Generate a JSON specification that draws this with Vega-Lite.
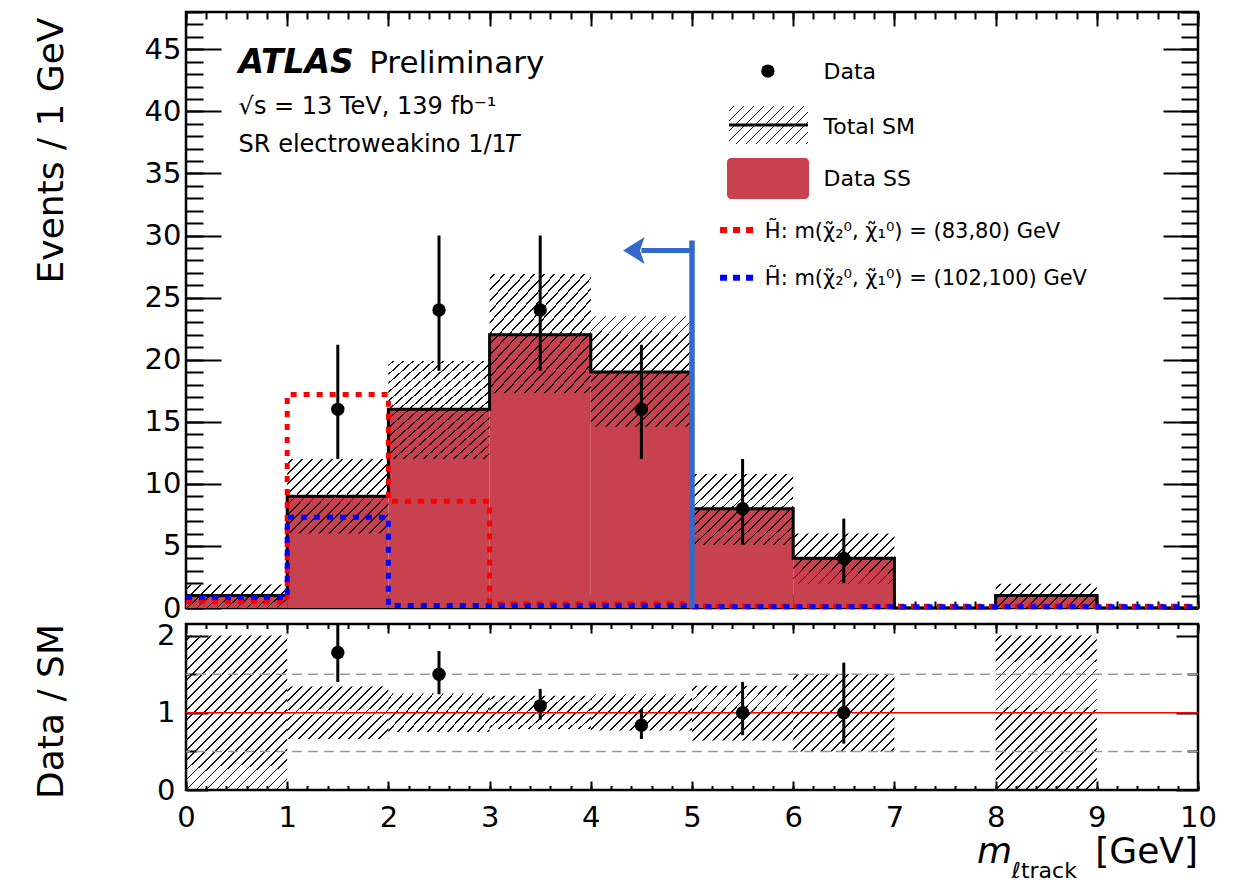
{
  "$schema": "https://vega.github.io/schema/vega-lite/v6.json",
  "background": "white",
  "padding": {"left": 31, "top": 9, "right": 5, "bottom": 5},
  "bounds": "flush",
  "spacing": 16,
  "resolve": {"scale": {"x": "independent", "y": "independent"}},
  "datasets": {
    "bins": [
      {"x0": 0, "x1": 1, "sm": 1, "dn": 0, "up": 1.9, "rdn": 0, "rup": 2.0},
      {"x0": 1, "x1": 2, "sm": 9, "dn": 6.0, "up": 12.0, "rdn": 0.66, "rup": 1.34},
      {"x0": 2, "x1": 3, "sm": 16, "dn": 12.0, "up": 19.9, "rdn": 0.75, "rup": 1.25},
      {"x0": 3, "x1": 4, "sm": 22, "dn": 17.3, "up": 26.9, "rdn": 0.79, "rup": 1.22},
      {"x0": 4, "x1": 5, "sm": 19, "dn": 14.6, "up": 23.5, "rdn": 0.77, "rup": 1.24},
      {"x0": 5, "x1": 6, "sm": 8, "dn": 5.1, "up": 10.8, "rdn": 0.64, "rup": 1.35},
      {"x0": 6, "x1": 7, "sm": 4, "dn": 1.95, "up": 6.0, "rdn": 0.5, "rup": 1.5},
      {"x0": 7, "x1": 8, "sm": 0, "dn": 0, "up": 0, "rdn": null, "rup": null},
      {"x0": 8, "x1": 9, "sm": 1, "dn": 0, "up": 1.95, "rdn": 0, "rup": 2.0},
      {"x0": 9, "x1": 10, "sm": 0, "dn": 0, "up": 0, "rdn": null, "rup": null}
    ],
    "edges": [
      {"x": 0, "sm": 1, "s1": 0.5, "s2": 0.85},
      {"x": 1, "sm": 9, "s1": 17.2, "s2": 7.3},
      {"x": 2, "sm": 16, "s1": 8.6, "s2": 0.2},
      {"x": 3, "sm": 22, "s1": 0.35, "s2": 0.2},
      {"x": 4, "sm": 19, "s1": 0.35, "s2": 0.2},
      {"x": 5, "sm": 8, "s1": 0.15, "s2": 0.1},
      {"x": 6, "sm": 4, "s1": 0.15, "s2": 0.1},
      {"x": 7, "sm": 0, "s1": 0.15, "s2": 0.1},
      {"x": 8, "sm": 1, "s1": 0.15, "s2": 0.1},
      {"x": 9, "sm": 0, "s1": 0.15, "s2": 0.1},
      {"x": 10, "sm": 0, "s1": 0.15, "s2": 0.1}
    ],
    "pts": [
      {"x": 1.5, "n": 16, "lo": 12.0, "hi": 21.2, "r": 1.78, "rlo": 1.40, "rhi": 2.35},
      {"x": 2.5, "n": 24, "lo": 19.1, "hi": 30.0, "r": 1.50, "rlo": 1.24, "rhi": 1.80},
      {"x": 3.5, "n": 24, "lo": 19.1, "hi": 30.0, "r": 1.09, "rlo": 0.91, "rhi": 1.31},
      {"x": 4.5, "n": 16, "lo": 12.0, "hi": 21.2, "r": 0.84, "rlo": 0.66, "rhi": 1.05},
      {"x": 5.5, "n": 8, "lo": 5.1, "hi": 12.0, "r": 1.00, "rlo": 0.71, "rhi": 1.40},
      {"x": 6.5, "n": 4, "lo": 2.0, "hi": 7.2, "r": 1.00, "rlo": 0.60, "rhi": 1.65}
    ]
  },
  "vconcat": [
    {
      "width": 1012,
      "height": 596,
      "resolve": {"axis": {"x": "independent", "y": "independent"}},
      "layer": [
        {
          "data": {"name": "bins"},
          "mark": {"type": "rect", "color": "#C8414F"},
          "encoding": {
            "x": {"field": "x0", "type": "quantitative", "scale": {"domain": [0, 10], "nice": false, "zero": false},
                  "axis": {"orient": "bottom", "values": [0,1,2,3,4,5,6,7,8,9,10], "labels": false, "tickSize": 14, "offset": -14, "title": null}},
            "x2": {"field": "x1"},
            "y": {"field": "sm", "type": "quantitative", "scale": {"domain": [0, 48], "nice": false, "zero": false},
                  "axis": {"orient": "left", "values": [0,5,10,15,20,25,30,35,40,45], "ticks": false, "labelPadding": 5,
                           "title": "Events / 1 GeV", "titleAnchor": "end", "titleX": -124, "titleY": 5, "titleAngle": -90, "titleBaseline": "alphabetic"}},
            "y2": {"datum": 0}
          }
        },
        {
          "data": {"name": "bins"},
          "transform": [{"filter": "datum.x0 == 0 || datum.x0 == 8"}],
          "mark": {"type": "rect", "fill": {"gradient": "linear", "x1": 0, "y1": 0, "x2": 2.4325, "y2": 0.5769, "stops": [
            {"offset":0,"color":"transparent"},
            {"offset":0.0157,"color":"transparent"},{"offset":0.0157,"color":"#111"},{"offset":0.0227,"color":"#111"},{"offset":0.0227,"color":"transparent"},
            {"offset":0.0542,"color":"transparent"},{"offset":0.0542,"color":"#111"},{"offset":0.0612,"color":"#111"},{"offset":0.0612,"color":"transparent"},
            {"offset":0.0927,"color":"transparent"},{"offset":0.0927,"color":"#111"},{"offset":0.0997,"color":"#111"},{"offset":0.0997,"color":"transparent"},
            {"offset":0.1311,"color":"transparent"},{"offset":0.1311,"color":"#111"},{"offset":0.1381,"color":"#111"},{"offset":0.1381,"color":"transparent"},
            {"offset":0.1696,"color":"transparent"},{"offset":0.1696,"color":"#111"},{"offset":0.1766,"color":"#111"},{"offset":0.1766,"color":"transparent"},
            {"offset":0.2080,"color":"transparent"},{"offset":0.2080,"color":"#111"},{"offset":0.2150,"color":"#111"},{"offset":0.2150,"color":"transparent"},
            {"offset":0.2465,"color":"transparent"},{"offset":0.2465,"color":"#111"},{"offset":0.2535,"color":"#111"},{"offset":0.2535,"color":"transparent"},
            {"offset":0.2850,"color":"transparent"},{"offset":0.2850,"color":"#111"},{"offset":0.2920,"color":"#111"},{"offset":0.2920,"color":"transparent"},
            {"offset":0.3234,"color":"transparent"},{"offset":0.3234,"color":"#111"},{"offset":0.3304,"color":"#111"},{"offset":0.3304,"color":"transparent"},
            {"offset":0.3619,"color":"transparent"},{"offset":0.3619,"color":"#111"},{"offset":0.3689,"color":"#111"},{"offset":0.3689,"color":"transparent"},
            {"offset":0.4003,"color":"transparent"},{"offset":0.4003,"color":"#111"},{"offset":0.4073,"color":"#111"},{"offset":0.4073,"color":"transparent"},
            {"offset":0.4388,"color":"transparent"},{"offset":0.4388,"color":"#111"},{"offset":0.4458,"color":"#111"},{"offset":0.4458,"color":"transparent"},
            {"offset":0.4773,"color":"transparent"},{"offset":0.4773,"color":"#111"},{"offset":0.4843,"color":"#111"},{"offset":0.4843,"color":"transparent"},
            {"offset":0.5157,"color":"transparent"},{"offset":0.5157,"color":"#111"},{"offset":0.5227,"color":"#111"},{"offset":0.5227,"color":"transparent"},
            {"offset":0.5542,"color":"transparent"},{"offset":0.5542,"color":"#111"},{"offset":0.5612,"color":"#111"},{"offset":0.5612,"color":"transparent"},
            {"offset":0.5927,"color":"transparent"},{"offset":0.5927,"color":"#111"},{"offset":0.5997,"color":"#111"},{"offset":0.5997,"color":"transparent"},
            {"offset":0.6311,"color":"transparent"},{"offset":0.6311,"color":"#111"},{"offset":0.6381,"color":"#111"},{"offset":0.6381,"color":"transparent"},
            {"offset":0.6696,"color":"transparent"},{"offset":0.6696,"color":"#111"},{"offset":0.6766,"color":"#111"},{"offset":0.6766,"color":"transparent"},
            {"offset":0.7080,"color":"transparent"},{"offset":0.7080,"color":"#111"},{"offset":0.7150,"color":"#111"},{"offset":0.7150,"color":"transparent"},
            {"offset":0.7465,"color":"transparent"},{"offset":0.7465,"color":"#111"},{"offset":0.7535,"color":"#111"},{"offset":0.7535,"color":"transparent"},
            {"offset":0.7850,"color":"transparent"},{"offset":0.7850,"color":"#111"},{"offset":0.7920,"color":"#111"},{"offset":0.7920,"color":"transparent"},
            {"offset":0.8234,"color":"transparent"},{"offset":0.8234,"color":"#111"},{"offset":0.8304,"color":"#111"},{"offset":0.8304,"color":"transparent"},
            {"offset":0.8619,"color":"transparent"},{"offset":0.8619,"color":"#111"},{"offset":0.8689,"color":"#111"},{"offset":0.8689,"color":"transparent"},
            {"offset":0.9003,"color":"transparent"},{"offset":0.9003,"color":"#111"},{"offset":0.9073,"color":"#111"},{"offset":0.9073,"color":"transparent"},
            {"offset":0.9388,"color":"transparent"},{"offset":0.9388,"color":"#111"},{"offset":0.9458,"color":"#111"},{"offset":0.9458,"color":"transparent"},
            {"offset":0.9773,"color":"transparent"},{"offset":0.9773,"color":"#111"},{"offset":0.9843,"color":"#111"},{"offset":0.9843,"color":"transparent"},
            {"offset":1,"color":"transparent"}]}},
          "encoding": {
            "x": {"field": "x0", "type": "quantitative",
                  "axis": {"orient": "bottom", "values": [0,0.2,0.4,0.6,0.8,1,1.2,1.4,1.6,1.8,2,2.2,2.4,2.6,2.8,3,3.2,3.4,3.6,3.8,4,4.2,4.4,4.6,4.8,5,5.2,5.4,5.6,5.8,6,6.2,6.4,6.6,6.8,7,7.2,7.4,7.6,7.8,8,8.2,8.4,8.6,8.8,9,9.2,9.4,9.6,9.8,10], "labels": false, "tickSize": 7, "offset": -7, "title": null}},
            "x2": {"field": "x1"},
            "y": {"field": "up", "type": "quantitative",
                  "axis": {"orient": "left", "values": [0,5,10,15,20,25,30,35,40,45], "labels": false, "tickSize": 35, "offset": -35, "title": null}},
            "y2": {"field": "dn"}
          }
        },
        {
          "data": {"name": "bins"},
          "transform": [{"filter": "datum.x0 == 1 || datum.x0 == 5"}],
          "mark": {"type": "rect", "fill": {"gradient": "linear", "x1": 0, "y1": 0, "x2": 1.690, "y2": 1.219, "stops": [
            {"offset":0,"color":"transparent"},
            {"offset":0.0157,"color":"transparent"},{"offset":0.0157,"color":"#111"},{"offset":0.0227,"color":"#111"},{"offset":0.0227,"color":"transparent"},
            {"offset":0.0542,"color":"transparent"},{"offset":0.0542,"color":"#111"},{"offset":0.0612,"color":"#111"},{"offset":0.0612,"color":"transparent"},
            {"offset":0.0927,"color":"transparent"},{"offset":0.0927,"color":"#111"},{"offset":0.0997,"color":"#111"},{"offset":0.0997,"color":"transparent"},
            {"offset":0.1311,"color":"transparent"},{"offset":0.1311,"color":"#111"},{"offset":0.1381,"color":"#111"},{"offset":0.1381,"color":"transparent"},
            {"offset":0.1696,"color":"transparent"},{"offset":0.1696,"color":"#111"},{"offset":0.1766,"color":"#111"},{"offset":0.1766,"color":"transparent"},
            {"offset":0.2080,"color":"transparent"},{"offset":0.2080,"color":"#111"},{"offset":0.2150,"color":"#111"},{"offset":0.2150,"color":"transparent"},
            {"offset":0.2465,"color":"transparent"},{"offset":0.2465,"color":"#111"},{"offset":0.2535,"color":"#111"},{"offset":0.2535,"color":"transparent"},
            {"offset":0.2850,"color":"transparent"},{"offset":0.2850,"color":"#111"},{"offset":0.2920,"color":"#111"},{"offset":0.2920,"color":"transparent"},
            {"offset":0.3234,"color":"transparent"},{"offset":0.3234,"color":"#111"},{"offset":0.3304,"color":"#111"},{"offset":0.3304,"color":"transparent"},
            {"offset":0.3619,"color":"transparent"},{"offset":0.3619,"color":"#111"},{"offset":0.3689,"color":"#111"},{"offset":0.3689,"color":"transparent"},
            {"offset":0.4003,"color":"transparent"},{"offset":0.4003,"color":"#111"},{"offset":0.4073,"color":"#111"},{"offset":0.4073,"color":"transparent"},
            {"offset":0.4388,"color":"transparent"},{"offset":0.4388,"color":"#111"},{"offset":0.4458,"color":"#111"},{"offset":0.4458,"color":"transparent"},
            {"offset":0.4773,"color":"transparent"},{"offset":0.4773,"color":"#111"},{"offset":0.4843,"color":"#111"},{"offset":0.4843,"color":"transparent"},
            {"offset":0.5157,"color":"transparent"},{"offset":0.5157,"color":"#111"},{"offset":0.5227,"color":"#111"},{"offset":0.5227,"color":"transparent"},
            {"offset":0.5542,"color":"transparent"},{"offset":0.5542,"color":"#111"},{"offset":0.5612,"color":"#111"},{"offset":0.5612,"color":"transparent"},
            {"offset":0.5927,"color":"transparent"},{"offset":0.5927,"color":"#111"},{"offset":0.5997,"color":"#111"},{"offset":0.5997,"color":"transparent"},
            {"offset":0.6311,"color":"transparent"},{"offset":0.6311,"color":"#111"},{"offset":0.6381,"color":"#111"},{"offset":0.6381,"color":"transparent"},
            {"offset":0.6696,"color":"transparent"},{"offset":0.6696,"color":"#111"},{"offset":0.6766,"color":"#111"},{"offset":0.6766,"color":"transparent"},
            {"offset":0.7080,"color":"transparent"},{"offset":0.7080,"color":"#111"},{"offset":0.7150,"color":"#111"},{"offset":0.7150,"color":"transparent"},
            {"offset":0.7465,"color":"transparent"},{"offset":0.7465,"color":"#111"},{"offset":0.7535,"color":"#111"},{"offset":0.7535,"color":"transparent"},
            {"offset":0.7850,"color":"transparent"},{"offset":0.7850,"color":"#111"},{"offset":0.7920,"color":"#111"},{"offset":0.7920,"color":"transparent"},
            {"offset":0.8234,"color":"transparent"},{"offset":0.8234,"color":"#111"},{"offset":0.8304,"color":"#111"},{"offset":0.8304,"color":"transparent"},
            {"offset":0.8619,"color":"transparent"},{"offset":0.8619,"color":"#111"},{"offset":0.8689,"color":"#111"},{"offset":0.8689,"color":"transparent"},
            {"offset":0.9003,"color":"transparent"},{"offset":0.9003,"color":"#111"},{"offset":0.9073,"color":"#111"},{"offset":0.9073,"color":"transparent"},
            {"offset":0.9388,"color":"transparent"},{"offset":0.9388,"color":"#111"},{"offset":0.9458,"color":"#111"},{"offset":0.9458,"color":"transparent"},
            {"offset":0.9773,"color":"transparent"},{"offset":0.9773,"color":"#111"},{"offset":0.9843,"color":"#111"},{"offset":0.9843,"color":"transparent"},
            {"offset":1,"color":"transparent"}]}},
          "encoding": {
            "x": {"field": "x0", "type": "quantitative", "axis": null},
            "x2": {"field": "x1"},
            "y": {"field": "up", "type": "quantitative", "axis": null},
            "y2": {"field": "dn"}
          }
        },
        {
          "data": {"name": "bins"},
          "transform": [{"filter": "datum.x0 == 6"}],
          "mark": {"type": "rect", "fill": {"gradient": "linear", "x1": 0, "y1": 0, "x2": 2.065, "y2": 1.020, "stops": [
            {"offset":0,"color":"transparent"},
            {"offset":0.0157,"color":"transparent"},{"offset":0.0157,"color":"#111"},{"offset":0.0227,"color":"#111"},{"offset":0.0227,"color":"transparent"},
            {"offset":0.0542,"color":"transparent"},{"offset":0.0542,"color":"#111"},{"offset":0.0612,"color":"#111"},{"offset":0.0612,"color":"transparent"},
            {"offset":0.0927,"color":"transparent"},{"offset":0.0927,"color":"#111"},{"offset":0.0997,"color":"#111"},{"offset":0.0997,"color":"transparent"},
            {"offset":0.1311,"color":"transparent"},{"offset":0.1311,"color":"#111"},{"offset":0.1381,"color":"#111"},{"offset":0.1381,"color":"transparent"},
            {"offset":0.1696,"color":"transparent"},{"offset":0.1696,"color":"#111"},{"offset":0.1766,"color":"#111"},{"offset":0.1766,"color":"transparent"},
            {"offset":0.2080,"color":"transparent"},{"offset":0.2080,"color":"#111"},{"offset":0.2150,"color":"#111"},{"offset":0.2150,"color":"transparent"},
            {"offset":0.2465,"color":"transparent"},{"offset":0.2465,"color":"#111"},{"offset":0.2535,"color":"#111"},{"offset":0.2535,"color":"transparent"},
            {"offset":0.2850,"color":"transparent"},{"offset":0.2850,"color":"#111"},{"offset":0.2920,"color":"#111"},{"offset":0.2920,"color":"transparent"},
            {"offset":0.3234,"color":"transparent"},{"offset":0.3234,"color":"#111"},{"offset":0.3304,"color":"#111"},{"offset":0.3304,"color":"transparent"},
            {"offset":0.3619,"color":"transparent"},{"offset":0.3619,"color":"#111"},{"offset":0.3689,"color":"#111"},{"offset":0.3689,"color":"transparent"},
            {"offset":0.4003,"color":"transparent"},{"offset":0.4003,"color":"#111"},{"offset":0.4073,"color":"#111"},{"offset":0.4073,"color":"transparent"},
            {"offset":0.4388,"color":"transparent"},{"offset":0.4388,"color":"#111"},{"offset":0.4458,"color":"#111"},{"offset":0.4458,"color":"transparent"},
            {"offset":0.4773,"color":"transparent"},{"offset":0.4773,"color":"#111"},{"offset":0.4843,"color":"#111"},{"offset":0.4843,"color":"transparent"},
            {"offset":0.5157,"color":"transparent"},{"offset":0.5157,"color":"#111"},{"offset":0.5227,"color":"#111"},{"offset":0.5227,"color":"transparent"},
            {"offset":0.5542,"color":"transparent"},{"offset":0.5542,"color":"#111"},{"offset":0.5612,"color":"#111"},{"offset":0.5612,"color":"transparent"},
            {"offset":0.5927,"color":"transparent"},{"offset":0.5927,"color":"#111"},{"offset":0.5997,"color":"#111"},{"offset":0.5997,"color":"transparent"},
            {"offset":0.6311,"color":"transparent"},{"offset":0.6311,"color":"#111"},{"offset":0.6381,"color":"#111"},{"offset":0.6381,"color":"transparent"},
            {"offset":0.6696,"color":"transparent"},{"offset":0.6696,"color":"#111"},{"offset":0.6766,"color":"#111"},{"offset":0.6766,"color":"transparent"},
            {"offset":0.7080,"color":"transparent"},{"offset":0.7080,"color":"#111"},{"offset":0.7150,"color":"#111"},{"offset":0.7150,"color":"transparent"},
            {"offset":0.7465,"color":"transparent"},{"offset":0.7465,"color":"#111"},{"offset":0.7535,"color":"#111"},{"offset":0.7535,"color":"transparent"},
            {"offset":0.7850,"color":"transparent"},{"offset":0.7850,"color":"#111"},{"offset":0.7920,"color":"#111"},{"offset":0.7920,"color":"transparent"},
            {"offset":0.8234,"color":"transparent"},{"offset":0.8234,"color":"#111"},{"offset":0.8304,"color":"#111"},{"offset":0.8304,"color":"transparent"},
            {"offset":0.8619,"color":"transparent"},{"offset":0.8619,"color":"#111"},{"offset":0.8689,"color":"#111"},{"offset":0.8689,"color":"transparent"},
            {"offset":0.9003,"color":"transparent"},{"offset":0.9003,"color":"#111"},{"offset":0.9073,"color":"#111"},{"offset":0.9073,"color":"transparent"},
            {"offset":0.9388,"color":"transparent"},{"offset":0.9388,"color":"#111"},{"offset":0.9458,"color":"#111"},{"offset":0.9458,"color":"transparent"},
            {"offset":0.9773,"color":"transparent"},{"offset":0.9773,"color":"#111"},{"offset":0.9843,"color":"#111"},{"offset":0.9843,"color":"transparent"},
            {"offset":1,"color":"transparent"}]}},
          "encoding": {
            "x": {"field": "x0", "type": "quantitative", "axis": null},
            "x2": {"field": "x1"},
            "y": {"field": "up", "type": "quantitative", "axis": null},
            "y2": {"field": "dn"}
          }
        },
        {
          "data": {"name": "bins"},
          "transform": [{"filter": "datum.x0 >= 2 && datum.x0 <= 4"}],
          "mark": {"type": "rect", "fill": {"gradient": "linear", "x1": 0, "y1": 0, "x2": 1.1778, "y2": 1.2802, "stops": [
            {"offset":0,"color":"transparent"},
            {"offset":0.0157,"color":"transparent"},{"offset":0.0157,"color":"#111"},{"offset":0.0227,"color":"#111"},{"offset":0.0227,"color":"transparent"},
            {"offset":0.0542,"color":"transparent"},{"offset":0.0542,"color":"#111"},{"offset":0.0612,"color":"#111"},{"offset":0.0612,"color":"transparent"},
            {"offset":0.0927,"color":"transparent"},{"offset":0.0927,"color":"#111"},{"offset":0.0997,"color":"#111"},{"offset":0.0997,"color":"transparent"},
            {"offset":0.1311,"color":"transparent"},{"offset":0.1311,"color":"#111"},{"offset":0.1381,"color":"#111"},{"offset":0.1381,"color":"transparent"},
            {"offset":0.1696,"color":"transparent"},{"offset":0.1696,"color":"#111"},{"offset":0.1766,"color":"#111"},{"offset":0.1766,"color":"transparent"},
            {"offset":0.2080,"color":"transparent"},{"offset":0.2080,"color":"#111"},{"offset":0.2150,"color":"#111"},{"offset":0.2150,"color":"transparent"},
            {"offset":0.2465,"color":"transparent"},{"offset":0.2465,"color":"#111"},{"offset":0.2535,"color":"#111"},{"offset":0.2535,"color":"transparent"},
            {"offset":0.2850,"color":"transparent"},{"offset":0.2850,"color":"#111"},{"offset":0.2920,"color":"#111"},{"offset":0.2920,"color":"transparent"},
            {"offset":0.3234,"color":"transparent"},{"offset":0.3234,"color":"#111"},{"offset":0.3304,"color":"#111"},{"offset":0.3304,"color":"transparent"},
            {"offset":0.3619,"color":"transparent"},{"offset":0.3619,"color":"#111"},{"offset":0.3689,"color":"#111"},{"offset":0.3689,"color":"transparent"},
            {"offset":0.4003,"color":"transparent"},{"offset":0.4003,"color":"#111"},{"offset":0.4073,"color":"#111"},{"offset":0.4073,"color":"transparent"},
            {"offset":0.4388,"color":"transparent"},{"offset":0.4388,"color":"#111"},{"offset":0.4458,"color":"#111"},{"offset":0.4458,"color":"transparent"},
            {"offset":0.4773,"color":"transparent"},{"offset":0.4773,"color":"#111"},{"offset":0.4843,"color":"#111"},{"offset":0.4843,"color":"transparent"},
            {"offset":0.5157,"color":"transparent"},{"offset":0.5157,"color":"#111"},{"offset":0.5227,"color":"#111"},{"offset":0.5227,"color":"transparent"},
            {"offset":0.5542,"color":"transparent"},{"offset":0.5542,"color":"#111"},{"offset":0.5612,"color":"#111"},{"offset":0.5612,"color":"transparent"},
            {"offset":0.5927,"color":"transparent"},{"offset":0.5927,"color":"#111"},{"offset":0.5997,"color":"#111"},{"offset":0.5997,"color":"transparent"},
            {"offset":0.6311,"color":"transparent"},{"offset":0.6311,"color":"#111"},{"offset":0.6381,"color":"#111"},{"offset":0.6381,"color":"transparent"},
            {"offset":0.6696,"color":"transparent"},{"offset":0.6696,"color":"#111"},{"offset":0.6766,"color":"#111"},{"offset":0.6766,"color":"transparent"},
            {"offset":0.7080,"color":"transparent"},{"offset":0.7080,"color":"#111"},{"offset":0.7150,"color":"#111"},{"offset":0.7150,"color":"transparent"},
            {"offset":0.7465,"color":"transparent"},{"offset":0.7465,"color":"#111"},{"offset":0.7535,"color":"#111"},{"offset":0.7535,"color":"transparent"},
            {"offset":0.7850,"color":"transparent"},{"offset":0.7850,"color":"#111"},{"offset":0.7920,"color":"#111"},{"offset":0.7920,"color":"transparent"},
            {"offset":0.8234,"color":"transparent"},{"offset":0.8234,"color":"#111"},{"offset":0.8304,"color":"#111"},{"offset":0.8304,"color":"transparent"},
            {"offset":0.8619,"color":"transparent"},{"offset":0.8619,"color":"#111"},{"offset":0.8689,"color":"#111"},{"offset":0.8689,"color":"transparent"},
            {"offset":0.9003,"color":"transparent"},{"offset":0.9003,"color":"#111"},{"offset":0.9073,"color":"#111"},{"offset":0.9073,"color":"transparent"},
            {"offset":0.9388,"color":"transparent"},{"offset":0.9388,"color":"#111"},{"offset":0.9458,"color":"#111"},{"offset":0.9458,"color":"transparent"},
            {"offset":0.9773,"color":"transparent"},{"offset":0.9773,"color":"#111"},{"offset":0.9843,"color":"#111"},{"offset":0.9843,"color":"transparent"},
            {"offset":1,"color":"transparent"}]}},
          "encoding": {
            "x": {"field": "x0", "type": "quantitative", "axis": null},
            "x2": {"field": "x1"},
            "y": {"field": "up", "type": "quantitative", "axis": null},
            "y2": {"field": "dn"}
          }
        },
        {
          "data": {"name": "edges"},
          "mark": {"type": "line", "interpolate": "step-after", "color": "black", "strokeWidth": 3},
          "encoding": {
            "x": {"field": "x", "type": "quantitative",
                  "axis": {"orient": "top", "values": [0,1,2,3,4,5,6,7,8,9,10], "labels": false, "tickSize": 14, "offset": -14, "title": null}},
            "y": {"field": "sm", "type": "quantitative",
                  "axis": {"orient": "left", "values": [0,1,2,3,4,5,6,7,8,9,10,11,12,13,14,15,16,17,18,19,20,21,22,23,24,25,26,27,28,29,30,31,32,33,34,35,36,37,38,39,40,41,42,43,44,45,46,47,48], "labels": false, "tickSize": 17, "offset": -17, "title": null}}
          }
        },
        {
          "data": {"name": "edges"},
          "mark": {"type": "line", "interpolate": "step-after", "color": "#FF0000", "strokeWidth": 5, "strokeDash": [6, 7]},
          "encoding": {
            "x": {"field": "x", "type": "quantitative",
                  "axis": {"orient": "top", "values": [0,0.2,0.4,0.6,0.8,1,1.2,1.4,1.6,1.8,2,2.2,2.4,2.6,2.8,3,3.2,3.4,3.6,3.8,4,4.2,4.4,4.6,4.8,5,5.2,5.4,5.6,5.8,6,6.2,6.4,6.6,6.8,7,7.2,7.4,7.6,7.8,8,8.2,8.4,8.6,8.8,9,9.2,9.4,9.6,9.8,10], "labels": false, "tickSize": 7, "offset": -7, "title": null}},
            "y": {"field": "s1", "type": "quantitative",
                  "axis": {"orient": "right", "values": [0,5,10,15,20,25,30,35,40,45], "labels": false, "tickSize": 35, "offset": -35, "title": null}}
          }
        },
        {
          "data": {"name": "edges"},
          "mark": {"type": "line", "interpolate": "step-after", "color": "#0000FF", "strokeWidth": 5, "strokeDash": [6, 7]},
          "encoding": {
            "x": {"field": "x", "type": "quantitative", "axis": null},
            "y": {"field": "s2", "type": "quantitative",
                  "axis": {"orient": "right", "values": [0,1,2,3,4,5,6,7,8,9,10,11,12,13,14,15,16,17,18,19,20,21,22,23,24,25,26,27,28,29,30,31,32,33,34,35,36,37,38,39,40,41,42,43,44,45,46,47,48], "labels": false, "tickSize": 17, "offset": -17, "title": null}}
          }
        },
        {
          "data": {"values": [{"x": 5, "y": 0, "y2": 29.6}]},
          "mark": {"type": "rule", "color": "#3468CB", "strokeWidth": 5.5},
          "encoding": {
            "x": {"field": "x", "type": "quantitative", "axis": null},
            "y": {"field": "y", "type": "quantitative", "axis": null},
            "y2": {"field": "y2"}
          }
        },
        {
          "data": {"values": [{"x": 4.5, "x2": 5, "y": 28.8}]},
          "mark": {"type": "rule", "color": "#3468CB", "strokeWidth": 5},
          "encoding": {
            "x": {"field": "x", "type": "quantitative", "axis": null},
            "x2": {"field": "x2"},
            "y": {"field": "y", "type": "quantitative", "axis": null}
          }
        },
        {
          "data": {"values": [{"x": 4.452, "y": 28.8}]},
          "mark": {"type": "point", "shape": "M-1,0L0.6,-1L0.25,0L0.6,1Z", "size": 729, "filled": true, "color": "#3468CB", "opacity": 1},
          "encoding": {
            "x": {"field": "x", "type": "quantitative", "axis": null},
            "y": {"field": "y", "type": "quantitative", "axis": null}
          }
        },
        {
          "data": {"name": "pts"},
          "mark": {"type": "rule", "color": "black", "strokeWidth": 3},
          "encoding": {
            "x": {"field": "x", "type": "quantitative", "axis": null},
            "y": {"field": "lo", "type": "quantitative", "axis": null},
            "y2": {"field": "hi"}
          }
        },
        {
          "data": {"name": "pts"},
          "mark": {"type": "point", "shape": "circle", "size": 180, "filled": true, "color": "black", "opacity": 1},
          "encoding": {
            "x": {"field": "x", "type": "quantitative", "axis": null},
            "y": {"field": "n", "type": "quantitative", "axis": null}
          }
        },
        {
          "data": {"values": [{"x": 5.75, "y": 43.24}]},
          "mark": {"type": "point", "shape": "circle", "size": 180, "filled": true, "color": "black", "opacity": 1},
          "encoding": {
            "x": {"field": "x", "type": "quantitative", "axis": null},
            "y": {"field": "y", "type": "quantitative", "axis": null}
          }
        },
        {
          "data": {"values": [{"x": 5.366, "x2": 6.146, "y": 37.37, "y2": 40.43}]},
          "mark": {"type": "rect", "fill": {"gradient": "linear", "x1": 0, "y1": 0, "x2": 2.6728, "y2": 1.2856, "stops": [
            {"offset":0,"color":"transparent"},
            {"offset":0.0157,"color":"transparent"},{"offset":0.0157,"color":"#111"},{"offset":0.0227,"color":"#111"},{"offset":0.0227,"color":"transparent"},
            {"offset":0.0542,"color":"transparent"},{"offset":0.0542,"color":"#111"},{"offset":0.0612,"color":"#111"},{"offset":0.0612,"color":"transparent"},
            {"offset":0.0927,"color":"transparent"},{"offset":0.0927,"color":"#111"},{"offset":0.0997,"color":"#111"},{"offset":0.0997,"color":"transparent"},
            {"offset":0.1311,"color":"transparent"},{"offset":0.1311,"color":"#111"},{"offset":0.1381,"color":"#111"},{"offset":0.1381,"color":"transparent"},
            {"offset":0.1696,"color":"transparent"},{"offset":0.1696,"color":"#111"},{"offset":0.1766,"color":"#111"},{"offset":0.1766,"color":"transparent"},
            {"offset":0.2080,"color":"transparent"},{"offset":0.2080,"color":"#111"},{"offset":0.2150,"color":"#111"},{"offset":0.2150,"color":"transparent"},
            {"offset":0.2465,"color":"transparent"},{"offset":0.2465,"color":"#111"},{"offset":0.2535,"color":"#111"},{"offset":0.2535,"color":"transparent"},
            {"offset":0.2850,"color":"transparent"},{"offset":0.2850,"color":"#111"},{"offset":0.2920,"color":"#111"},{"offset":0.2920,"color":"transparent"},
            {"offset":0.3234,"color":"transparent"},{"offset":0.3234,"color":"#111"},{"offset":0.3304,"color":"#111"},{"offset":0.3304,"color":"transparent"},
            {"offset":0.3619,"color":"transparent"},{"offset":0.3619,"color":"#111"},{"offset":0.3689,"color":"#111"},{"offset":0.3689,"color":"transparent"},
            {"offset":0.4003,"color":"transparent"},{"offset":0.4003,"color":"#111"},{"offset":0.4073,"color":"#111"},{"offset":0.4073,"color":"transparent"},
            {"offset":0.4388,"color":"transparent"},{"offset":0.4388,"color":"#111"},{"offset":0.4458,"color":"#111"},{"offset":0.4458,"color":"transparent"},
            {"offset":0.4773,"color":"transparent"},{"offset":0.4773,"color":"#111"},{"offset":0.4843,"color":"#111"},{"offset":0.4843,"color":"transparent"},
            {"offset":0.5157,"color":"transparent"},{"offset":0.5157,"color":"#111"},{"offset":0.5227,"color":"#111"},{"offset":0.5227,"color":"transparent"},
            {"offset":0.5542,"color":"transparent"},{"offset":0.5542,"color":"#111"},{"offset":0.5612,"color":"#111"},{"offset":0.5612,"color":"transparent"},
            {"offset":0.5927,"color":"transparent"},{"offset":0.5927,"color":"#111"},{"offset":0.5997,"color":"#111"},{"offset":0.5997,"color":"transparent"},
            {"offset":0.6311,"color":"transparent"},{"offset":0.6311,"color":"#111"},{"offset":0.6381,"color":"#111"},{"offset":0.6381,"color":"transparent"},
            {"offset":0.6696,"color":"transparent"},{"offset":0.6696,"color":"#111"},{"offset":0.6766,"color":"#111"},{"offset":0.6766,"color":"transparent"},
            {"offset":0.7080,"color":"transparent"},{"offset":0.7080,"color":"#111"},{"offset":0.7150,"color":"#111"},{"offset":0.7150,"color":"transparent"},
            {"offset":0.7465,"color":"transparent"},{"offset":0.7465,"color":"#111"},{"offset":0.7535,"color":"#111"},{"offset":0.7535,"color":"transparent"},
            {"offset":0.7850,"color":"transparent"},{"offset":0.7850,"color":"#111"},{"offset":0.7920,"color":"#111"},{"offset":0.7920,"color":"transparent"},
            {"offset":0.8234,"color":"transparent"},{"offset":0.8234,"color":"#111"},{"offset":0.8304,"color":"#111"},{"offset":0.8304,"color":"transparent"},
            {"offset":0.8619,"color":"transparent"},{"offset":0.8619,"color":"#111"},{"offset":0.8689,"color":"#111"},{"offset":0.8689,"color":"transparent"},
            {"offset":0.9003,"color":"transparent"},{"offset":0.9003,"color":"#111"},{"offset":0.9073,"color":"#111"},{"offset":0.9073,"color":"transparent"},
            {"offset":0.9388,"color":"transparent"},{"offset":0.9388,"color":"#111"},{"offset":0.9458,"color":"#111"},{"offset":0.9458,"color":"transparent"},
            {"offset":0.9773,"color":"transparent"},{"offset":0.9773,"color":"#111"},{"offset":0.9843,"color":"#111"},{"offset":0.9843,"color":"transparent"},
            {"offset":1,"color":"transparent"}]}},
          "encoding": {
            "x": {"field": "x", "type": "quantitative", "axis": null},
            "x2": {"field": "x2"},
            "y": {"field": "y", "type": "quantitative", "axis": null},
            "y2": {"field": "y2"}
          }
        },
        {
          "data": {"values": [{"x": 5.366, "x2": 6.146, "y": 38.9}]},
          "mark": {"type": "rule", "color": "black", "strokeWidth": 3},
          "encoding": {
            "x": {"field": "x", "type": "quantitative", "axis": null},
            "x2": {"field": "x2"},
            "y": {"field": "y", "type": "quantitative", "axis": null}
          }
        },
        {
          "data": {"values": [{"x": 5.346, "x2": 6.156, "y": 32.94, "y2": 36.24}]},
          "mark": {"type": "rect", "color": "#C8414F", "cornerRadius": 4},
          "encoding": {
            "x": {"field": "x", "type": "quantitative", "axis": null},
            "x2": {"field": "x2"},
            "y": {"field": "y", "type": "quantitative", "axis": null},
            "y2": {"field": "y2"}
          }
        },
        {
          "data": {"values": [{"x": 5.277, "x2": 5.623, "y": 30.45, "c": "r"}, {"x": 5.277, "x2": 5.623, "y": 26.59, "c": "b"}]},
          "mark": {"type": "rule", "strokeWidth": 6, "strokeDash": [7, 6]},
          "encoding": {
            "x": {"field": "x", "type": "quantitative", "axis": null},
            "x2": {"field": "x2"},
            "y": {"field": "y", "type": "quantitative", "axis": null},
            "color": {"field": "c", "type": "nominal", "scale": {"domain": ["r", "b"], "range": ["#FF0000", "#0000FF"]}, "legend": null}
          }
        },
        {
          "data": {"values": [
            {"x": 6.30, "y": 43.16, "t": "Data"},
            {"x": 6.30, "y": 38.74, "t": "Total SM"},
            {"x": 6.30, "y": 34.55, "t": "Data SS"}
          ]},
          "mark": {"type": "text", "font": "DejaVu Sans", "fontSize": 22, "align": "left", "baseline": "middle", "color": "black"},
          "encoding": {
            "x": {"field": "x", "type": "quantitative", "axis": null},
            "y": {"field": "y", "type": "quantitative", "axis": null},
            "text": {"field": "t"}
          }
        },
        {
          "data": {"values": [
            {"x": 5.72, "y": 30.29, "t": "H̃: m(χ̃₂⁰, χ̃₁⁰) = (83,80) GeV"},
            {"x": 5.72, "y": 26.51, "t": "H̃: m(χ̃₂⁰, χ̃₁⁰) = (102,100) GeV"}
          ]},
          "mark": {"type": "text", "font": "DejaVu Sans", "fontSize": 21, "align": "left", "baseline": "middle", "color": "black"},
          "encoding": {
            "x": {"field": "x", "type": "quantitative", "axis": null},
            "y": {"field": "y", "type": "quantitative", "axis": null},
            "text": {"field": "t"}
          }
        },
        {
          "data": {"values": [{"x": 0.52, "y": 43.08, "t": "ATLAS"}]},
          "mark": {"type": "text", "font": "DejaVu Sans", "fontSize": 33, "fontWeight": "bold", "fontStyle": "italic", "align": "left", "baseline": "alphabetic", "color": "black"},
          "encoding": {
            "x": {"field": "x", "type": "quantitative", "axis": null},
            "y": {"field": "y", "type": "quantitative", "axis": null},
            "text": {"field": "t"}
          }
        },
        {
          "data": {"values": [{"x": 1.81, "y": 43.08, "t": "Preliminary"}]},
          "mark": {"type": "text", "font": "DejaVu Sans", "fontSize": 31, "align": "left", "baseline": "alphabetic", "color": "black"},
          "encoding": {
            "x": {"field": "x", "type": "quantitative", "axis": null},
            "y": {"field": "y", "type": "quantitative", "axis": null},
            "text": {"field": "t"}
          }
        },
        {
          "data": {"values": [
            {"x": 0.52, "y": 39.8, "t": "√s = 13 TeV, 139 fb⁻¹"},
            {"x": 0.52, "y": 36.73, "t": "SR electroweakino 1/1"}
          ]},
          "mark": {"type": "text", "font": "DejaVu Sans", "fontSize": 24, "align": "left", "baseline": "alphabetic", "color": "black"},
          "encoding": {
            "x": {"field": "x", "type": "quantitative", "axis": null},
            "y": {"field": "y", "type": "quantitative", "axis": null},
            "text": {"field": "t"}
          }
        },
        {
          "data": {"values": [{"x": 3.15, "y": 36.73, "t": "T"}]},
          "mark": {"type": "text", "font": "DejaVu Sans", "fontSize": 24, "fontStyle": "italic", "align": "left", "baseline": "alphabetic", "color": "black"},
          "encoding": {
            "x": {"field": "x", "type": "quantitative", "axis": null},
            "y": {"field": "y", "type": "quantitative", "axis": null},
            "text": {"field": "t"}
          }
        }
      ]
    },
    {
      "width": 1012,
      "height": 166,
      "resolve": {"axis": {"x": "independent", "y": "independent"}},
      "layer": [
        {
          "data": {"name": "bins"},
          "transform": [{"filter": "datum.x0 == 0 || datum.x0 == 8"}],
          "mark": {"type": "rect", "fill": {"gradient": "linear", "x1": 0, "y1": 0, "x2": 0.7679, "y2": 1.1761, "stops": [
            {"offset":0,"color":"transparent"},
            {"offset":0.0157,"color":"transparent"},{"offset":0.0157,"color":"#111"},{"offset":0.0227,"color":"#111"},{"offset":0.0227,"color":"transparent"},
            {"offset":0.0542,"color":"transparent"},{"offset":0.0542,"color":"#111"},{"offset":0.0612,"color":"#111"},{"offset":0.0612,"color":"transparent"},
            {"offset":0.0927,"color":"transparent"},{"offset":0.0927,"color":"#111"},{"offset":0.0997,"color":"#111"},{"offset":0.0997,"color":"transparent"},
            {"offset":0.1311,"color":"transparent"},{"offset":0.1311,"color":"#111"},{"offset":0.1381,"color":"#111"},{"offset":0.1381,"color":"transparent"},
            {"offset":0.1696,"color":"transparent"},{"offset":0.1696,"color":"#111"},{"offset":0.1766,"color":"#111"},{"offset":0.1766,"color":"transparent"},
            {"offset":0.2080,"color":"transparent"},{"offset":0.2080,"color":"#111"},{"offset":0.2150,"color":"#111"},{"offset":0.2150,"color":"transparent"},
            {"offset":0.2465,"color":"transparent"},{"offset":0.2465,"color":"#111"},{"offset":0.2535,"color":"#111"},{"offset":0.2535,"color":"transparent"},
            {"offset":0.2850,"color":"transparent"},{"offset":0.2850,"color":"#111"},{"offset":0.2920,"color":"#111"},{"offset":0.2920,"color":"transparent"},
            {"offset":0.3234,"color":"transparent"},{"offset":0.3234,"color":"#111"},{"offset":0.3304,"color":"#111"},{"offset":0.3304,"color":"transparent"},
            {"offset":0.3619,"color":"transparent"},{"offset":0.3619,"color":"#111"},{"offset":0.3689,"color":"#111"},{"offset":0.3689,"color":"transparent"},
            {"offset":0.4003,"color":"transparent"},{"offset":0.4003,"color":"#111"},{"offset":0.4073,"color":"#111"},{"offset":0.4073,"color":"transparent"},
            {"offset":0.4388,"color":"transparent"},{"offset":0.4388,"color":"#111"},{"offset":0.4458,"color":"#111"},{"offset":0.4458,"color":"transparent"},
            {"offset":0.4773,"color":"transparent"},{"offset":0.4773,"color":"#111"},{"offset":0.4843,"color":"#111"},{"offset":0.4843,"color":"transparent"},
            {"offset":0.5157,"color":"transparent"},{"offset":0.5157,"color":"#111"},{"offset":0.5227,"color":"#111"},{"offset":0.5227,"color":"transparent"},
            {"offset":0.5542,"color":"transparent"},{"offset":0.5542,"color":"#111"},{"offset":0.5612,"color":"#111"},{"offset":0.5612,"color":"transparent"},
            {"offset":0.5927,"color":"transparent"},{"offset":0.5927,"color":"#111"},{"offset":0.5997,"color":"#111"},{"offset":0.5997,"color":"transparent"},
            {"offset":0.6311,"color":"transparent"},{"offset":0.6311,"color":"#111"},{"offset":0.6381,"color":"#111"},{"offset":0.6381,"color":"transparent"},
            {"offset":0.6696,"color":"transparent"},{"offset":0.6696,"color":"#111"},{"offset":0.6766,"color":"#111"},{"offset":0.6766,"color":"transparent"},
            {"offset":0.7080,"color":"transparent"},{"offset":0.7080,"color":"#111"},{"offset":0.7150,"color":"#111"},{"offset":0.7150,"color":"transparent"},
            {"offset":0.7465,"color":"transparent"},{"offset":0.7465,"color":"#111"},{"offset":0.7535,"color":"#111"},{"offset":0.7535,"color":"transparent"},
            {"offset":0.7850,"color":"transparent"},{"offset":0.7850,"color":"#111"},{"offset":0.7920,"color":"#111"},{"offset":0.7920,"color":"transparent"},
            {"offset":0.8234,"color":"transparent"},{"offset":0.8234,"color":"#111"},{"offset":0.8304,"color":"#111"},{"offset":0.8304,"color":"transparent"},
            {"offset":0.8619,"color":"transparent"},{"offset":0.8619,"color":"#111"},{"offset":0.8689,"color":"#111"},{"offset":0.8689,"color":"transparent"},
            {"offset":0.9003,"color":"transparent"},{"offset":0.9003,"color":"#111"},{"offset":0.9073,"color":"#111"},{"offset":0.9073,"color":"transparent"},
            {"offset":0.9388,"color":"transparent"},{"offset":0.9388,"color":"#111"},{"offset":0.9458,"color":"#111"},{"offset":0.9458,"color":"transparent"},
            {"offset":0.9773,"color":"transparent"},{"offset":0.9773,"color":"#111"},{"offset":0.9843,"color":"#111"},{"offset":0.9843,"color":"transparent"},
            {"offset":1,"color":"transparent"}]}},
          "encoding": {
            "x": {"field": "x0", "type": "quantitative", "scale": {"domain": [0, 10], "nice": false, "zero": false},
                  "axis": {"orient": "bottom", "values": [0,1,2,3,4,5,6,7,8,9,10], "ticks": false, "labelPadding": 13, "title": null}},
            "x2": {"field": "x1"},
            "y": {"field": "rup", "type": "quantitative", "scale": {"domain": [0, 2.15], "nice": false, "zero": false},
                  "axis": {"orient": "left", "values": [0, 1, 2], "ticks": false, "labelPadding": 11,
                           "title": "Data / SM", "titleAnchor": "middle", "titleX": -124, "titleY": 87, "titleAngle": -90, "titleBaseline": "alphabetic"}},
            "y2": {"field": "rdn"}
          }
        },
        {
          "data": {"name": "bins"},
          "transform": [{"filter": "datum.x0 == 1 || datum.x0 == 5"}],
          "mark": {"type": "rect", "fill": {"gradient": "linear", "x1": 0, "y1": 0, "x2": 2.000, "y2": 1.0671, "stops": [
            {"offset":0,"color":"transparent"},
            {"offset":0.0157,"color":"transparent"},{"offset":0.0157,"color":"#111"},{"offset":0.0227,"color":"#111"},{"offset":0.0227,"color":"transparent"},
            {"offset":0.0542,"color":"transparent"},{"offset":0.0542,"color":"#111"},{"offset":0.0612,"color":"#111"},{"offset":0.0612,"color":"transparent"},
            {"offset":0.0927,"color":"transparent"},{"offset":0.0927,"color":"#111"},{"offset":0.0997,"color":"#111"},{"offset":0.0997,"color":"transparent"},
            {"offset":0.1311,"color":"transparent"},{"offset":0.1311,"color":"#111"},{"offset":0.1381,"color":"#111"},{"offset":0.1381,"color":"transparent"},
            {"offset":0.1696,"color":"transparent"},{"offset":0.1696,"color":"#111"},{"offset":0.1766,"color":"#111"},{"offset":0.1766,"color":"transparent"},
            {"offset":0.2080,"color":"transparent"},{"offset":0.2080,"color":"#111"},{"offset":0.2150,"color":"#111"},{"offset":0.2150,"color":"transparent"},
            {"offset":0.2465,"color":"transparent"},{"offset":0.2465,"color":"#111"},{"offset":0.2535,"color":"#111"},{"offset":0.2535,"color":"transparent"},
            {"offset":0.2850,"color":"transparent"},{"offset":0.2850,"color":"#111"},{"offset":0.2920,"color":"#111"},{"offset":0.2920,"color":"transparent"},
            {"offset":0.3234,"color":"transparent"},{"offset":0.3234,"color":"#111"},{"offset":0.3304,"color":"#111"},{"offset":0.3304,"color":"transparent"},
            {"offset":0.3619,"color":"transparent"},{"offset":0.3619,"color":"#111"},{"offset":0.3689,"color":"#111"},{"offset":0.3689,"color":"transparent"},
            {"offset":0.4003,"color":"transparent"},{"offset":0.4003,"color":"#111"},{"offset":0.4073,"color":"#111"},{"offset":0.4073,"color":"transparent"},
            {"offset":0.4388,"color":"transparent"},{"offset":0.4388,"color":"#111"},{"offset":0.4458,"color":"#111"},{"offset":0.4458,"color":"transparent"},
            {"offset":0.4773,"color":"transparent"},{"offset":0.4773,"color":"#111"},{"offset":0.4843,"color":"#111"},{"offset":0.4843,"color":"transparent"},
            {"offset":0.5157,"color":"transparent"},{"offset":0.5157,"color":"#111"},{"offset":0.5227,"color":"#111"},{"offset":0.5227,"color":"transparent"},
            {"offset":0.5542,"color":"transparent"},{"offset":0.5542,"color":"#111"},{"offset":0.5612,"color":"#111"},{"offset":0.5612,"color":"transparent"},
            {"offset":0.5927,"color":"transparent"},{"offset":0.5927,"color":"#111"},{"offset":0.5997,"color":"#111"},{"offset":0.5997,"color":"transparent"},
            {"offset":0.6311,"color":"transparent"},{"offset":0.6311,"color":"#111"},{"offset":0.6381,"color":"#111"},{"offset":0.6381,"color":"transparent"},
            {"offset":0.6696,"color":"transparent"},{"offset":0.6696,"color":"#111"},{"offset":0.6766,"color":"#111"},{"offset":0.6766,"color":"transparent"},
            {"offset":0.7080,"color":"transparent"},{"offset":0.7080,"color":"#111"},{"offset":0.7150,"color":"#111"},{"offset":0.7150,"color":"transparent"},
            {"offset":0.7465,"color":"transparent"},{"offset":0.7465,"color":"#111"},{"offset":0.7535,"color":"#111"},{"offset":0.7535,"color":"transparent"},
            {"offset":0.7850,"color":"transparent"},{"offset":0.7850,"color":"#111"},{"offset":0.7920,"color":"#111"},{"offset":0.7920,"color":"transparent"},
            {"offset":0.8234,"color":"transparent"},{"offset":0.8234,"color":"#111"},{"offset":0.8304,"color":"#111"},{"offset":0.8304,"color":"transparent"},
            {"offset":0.8619,"color":"transparent"},{"offset":0.8619,"color":"#111"},{"offset":0.8689,"color":"#111"},{"offset":0.8689,"color":"transparent"},
            {"offset":0.9003,"color":"transparent"},{"offset":0.9003,"color":"#111"},{"offset":0.9073,"color":"#111"},{"offset":0.9073,"color":"transparent"},
            {"offset":0.9388,"color":"transparent"},{"offset":0.9388,"color":"#111"},{"offset":0.9458,"color":"#111"},{"offset":0.9458,"color":"transparent"},
            {"offset":0.9773,"color":"transparent"},{"offset":0.9773,"color":"#111"},{"offset":0.9843,"color":"#111"},{"offset":0.9843,"color":"transparent"},
            {"offset":1,"color":"transparent"}]}},
          "encoding": {
            "x": {"field": "x0", "type": "quantitative", "axis": null},
            "x2": {"field": "x1"},
            "y": {"field": "rup", "type": "quantitative", "axis": null},
            "y2": {"field": "rdn"}
          }
        },
        {
          "data": {"name": "bins"},
          "transform": [{"filter": "datum.x0 >= 2 && datum.x0 <= 4"}],
          "mark": {"type": "rect", "fill": {"gradient": "linear", "x1": 0, "y1": 0, "x2": 2.2807, "y2": 0.8113, "stops": [
            {"offset":0,"color":"transparent"},
            {"offset":0.0157,"color":"transparent"},{"offset":0.0157,"color":"#111"},{"offset":0.0227,"color":"#111"},{"offset":0.0227,"color":"transparent"},
            {"offset":0.0542,"color":"transparent"},{"offset":0.0542,"color":"#111"},{"offset":0.0612,"color":"#111"},{"offset":0.0612,"color":"transparent"},
            {"offset":0.0927,"color":"transparent"},{"offset":0.0927,"color":"#111"},{"offset":0.0997,"color":"#111"},{"offset":0.0997,"color":"transparent"},
            {"offset":0.1311,"color":"transparent"},{"offset":0.1311,"color":"#111"},{"offset":0.1381,"color":"#111"},{"offset":0.1381,"color":"transparent"},
            {"offset":0.1696,"color":"transparent"},{"offset":0.1696,"color":"#111"},{"offset":0.1766,"color":"#111"},{"offset":0.1766,"color":"transparent"},
            {"offset":0.2080,"color":"transparent"},{"offset":0.2080,"color":"#111"},{"offset":0.2150,"color":"#111"},{"offset":0.2150,"color":"transparent"},
            {"offset":0.2465,"color":"transparent"},{"offset":0.2465,"color":"#111"},{"offset":0.2535,"color":"#111"},{"offset":0.2535,"color":"transparent"},
            {"offset":0.2850,"color":"transparent"},{"offset":0.2850,"color":"#111"},{"offset":0.2920,"color":"#111"},{"offset":0.2920,"color":"transparent"},
            {"offset":0.3234,"color":"transparent"},{"offset":0.3234,"color":"#111"},{"offset":0.3304,"color":"#111"},{"offset":0.3304,"color":"transparent"},
            {"offset":0.3619,"color":"transparent"},{"offset":0.3619,"color":"#111"},{"offset":0.3689,"color":"#111"},{"offset":0.3689,"color":"transparent"},
            {"offset":0.4003,"color":"transparent"},{"offset":0.4003,"color":"#111"},{"offset":0.4073,"color":"#111"},{"offset":0.4073,"color":"transparent"},
            {"offset":0.4388,"color":"transparent"},{"offset":0.4388,"color":"#111"},{"offset":0.4458,"color":"#111"},{"offset":0.4458,"color":"transparent"},
            {"offset":0.4773,"color":"transparent"},{"offset":0.4773,"color":"#111"},{"offset":0.4843,"color":"#111"},{"offset":0.4843,"color":"transparent"},
            {"offset":0.5157,"color":"transparent"},{"offset":0.5157,"color":"#111"},{"offset":0.5227,"color":"#111"},{"offset":0.5227,"color":"transparent"},
            {"offset":0.5542,"color":"transparent"},{"offset":0.5542,"color":"#111"},{"offset":0.5612,"color":"#111"},{"offset":0.5612,"color":"transparent"},
            {"offset":0.5927,"color":"transparent"},{"offset":0.5927,"color":"#111"},{"offset":0.5997,"color":"#111"},{"offset":0.5997,"color":"transparent"},
            {"offset":0.6311,"color":"transparent"},{"offset":0.6311,"color":"#111"},{"offset":0.6381,"color":"#111"},{"offset":0.6381,"color":"transparent"},
            {"offset":0.6696,"color":"transparent"},{"offset":0.6696,"color":"#111"},{"offset":0.6766,"color":"#111"},{"offset":0.6766,"color":"transparent"},
            {"offset":0.7080,"color":"transparent"},{"offset":0.7080,"color":"#111"},{"offset":0.7150,"color":"#111"},{"offset":0.7150,"color":"transparent"},
            {"offset":0.7465,"color":"transparent"},{"offset":0.7465,"color":"#111"},{"offset":0.7535,"color":"#111"},{"offset":0.7535,"color":"transparent"},
            {"offset":0.7850,"color":"transparent"},{"offset":0.7850,"color":"#111"},{"offset":0.7920,"color":"#111"},{"offset":0.7920,"color":"transparent"},
            {"offset":0.8234,"color":"transparent"},{"offset":0.8234,"color":"#111"},{"offset":0.8304,"color":"#111"},{"offset":0.8304,"color":"transparent"},
            {"offset":0.8619,"color":"transparent"},{"offset":0.8619,"color":"#111"},{"offset":0.8689,"color":"#111"},{"offset":0.8689,"color":"transparent"},
            {"offset":0.9003,"color":"transparent"},{"offset":0.9003,"color":"#111"},{"offset":0.9073,"color":"#111"},{"offset":0.9073,"color":"transparent"},
            {"offset":0.9388,"color":"transparent"},{"offset":0.9388,"color":"#111"},{"offset":0.9458,"color":"#111"},{"offset":0.9458,"color":"transparent"},
            {"offset":0.9773,"color":"transparent"},{"offset":0.9773,"color":"#111"},{"offset":0.9843,"color":"#111"},{"offset":0.9843,"color":"transparent"},
            {"offset":1,"color":"transparent"}]}},
          "encoding": {
            "x": {"field": "x0", "type": "quantitative", "axis": null},
            "x2": {"field": "x1"},
            "y": {"field": "rup", "type": "quantitative", "axis": null},
            "y2": {"field": "rdn"}
          }
        },
        {
          "data": {"name": "bins"},
          "transform": [{"filter": "datum.x0 == 6"}],
          "mark": {"type": "rect", "fill": {"gradient": "linear", "x1": 0, "y1": 0, "x2": 1.6272, "y2": 1.2381, "stops": [
            {"offset":0,"color":"transparent"},
            {"offset":0.0157,"color":"transparent"},{"offset":0.0157,"color":"#111"},{"offset":0.0227,"color":"#111"},{"offset":0.0227,"color":"transparent"},
            {"offset":0.0542,"color":"transparent"},{"offset":0.0542,"color":"#111"},{"offset":0.0612,"color":"#111"},{"offset":0.0612,"color":"transparent"},
            {"offset":0.0927,"color":"transparent"},{"offset":0.0927,"color":"#111"},{"offset":0.0997,"color":"#111"},{"offset":0.0997,"color":"transparent"},
            {"offset":0.1311,"color":"transparent"},{"offset":0.1311,"color":"#111"},{"offset":0.1381,"color":"#111"},{"offset":0.1381,"color":"transparent"},
            {"offset":0.1696,"color":"transparent"},{"offset":0.1696,"color":"#111"},{"offset":0.1766,"color":"#111"},{"offset":0.1766,"color":"transparent"},
            {"offset":0.2080,"color":"transparent"},{"offset":0.2080,"color":"#111"},{"offset":0.2150,"color":"#111"},{"offset":0.2150,"color":"transparent"},
            {"offset":0.2465,"color":"transparent"},{"offset":0.2465,"color":"#111"},{"offset":0.2535,"color":"#111"},{"offset":0.2535,"color":"transparent"},
            {"offset":0.2850,"color":"transparent"},{"offset":0.2850,"color":"#111"},{"offset":0.2920,"color":"#111"},{"offset":0.2920,"color":"transparent"},
            {"offset":0.3234,"color":"transparent"},{"offset":0.3234,"color":"#111"},{"offset":0.3304,"color":"#111"},{"offset":0.3304,"color":"transparent"},
            {"offset":0.3619,"color":"transparent"},{"offset":0.3619,"color":"#111"},{"offset":0.3689,"color":"#111"},{"offset":0.3689,"color":"transparent"},
            {"offset":0.4003,"color":"transparent"},{"offset":0.4003,"color":"#111"},{"offset":0.4073,"color":"#111"},{"offset":0.4073,"color":"transparent"},
            {"offset":0.4388,"color":"transparent"},{"offset":0.4388,"color":"#111"},{"offset":0.4458,"color":"#111"},{"offset":0.4458,"color":"transparent"},
            {"offset":0.4773,"color":"transparent"},{"offset":0.4773,"color":"#111"},{"offset":0.4843,"color":"#111"},{"offset":0.4843,"color":"transparent"},
            {"offset":0.5157,"color":"transparent"},{"offset":0.5157,"color":"#111"},{"offset":0.5227,"color":"#111"},{"offset":0.5227,"color":"transparent"},
            {"offset":0.5542,"color":"transparent"},{"offset":0.5542,"color":"#111"},{"offset":0.5612,"color":"#111"},{"offset":0.5612,"color":"transparent"},
            {"offset":0.5927,"color":"transparent"},{"offset":0.5927,"color":"#111"},{"offset":0.5997,"color":"#111"},{"offset":0.5997,"color":"transparent"},
            {"offset":0.6311,"color":"transparent"},{"offset":0.6311,"color":"#111"},{"offset":0.6381,"color":"#111"},{"offset":0.6381,"color":"transparent"},
            {"offset":0.6696,"color":"transparent"},{"offset":0.6696,"color":"#111"},{"offset":0.6766,"color":"#111"},{"offset":0.6766,"color":"transparent"},
            {"offset":0.7080,"color":"transparent"},{"offset":0.7080,"color":"#111"},{"offset":0.7150,"color":"#111"},{"offset":0.7150,"color":"transparent"},
            {"offset":0.7465,"color":"transparent"},{"offset":0.7465,"color":"#111"},{"offset":0.7535,"color":"#111"},{"offset":0.7535,"color":"transparent"},
            {"offset":0.7850,"color":"transparent"},{"offset":0.7850,"color":"#111"},{"offset":0.7920,"color":"#111"},{"offset":0.7920,"color":"transparent"},
            {"offset":0.8234,"color":"transparent"},{"offset":0.8234,"color":"#111"},{"offset":0.8304,"color":"#111"},{"offset":0.8304,"color":"transparent"},
            {"offset":0.8619,"color":"transparent"},{"offset":0.8619,"color":"#111"},{"offset":0.8689,"color":"#111"},{"offset":0.8689,"color":"transparent"},
            {"offset":0.9003,"color":"transparent"},{"offset":0.9003,"color":"#111"},{"offset":0.9073,"color":"#111"},{"offset":0.9073,"color":"transparent"},
            {"offset":0.9388,"color":"transparent"},{"offset":0.9388,"color":"#111"},{"offset":0.9458,"color":"#111"},{"offset":0.9458,"color":"transparent"},
            {"offset":0.9773,"color":"transparent"},{"offset":0.9773,"color":"#111"},{"offset":0.9843,"color":"#111"},{"offset":0.9843,"color":"transparent"},
            {"offset":1,"color":"transparent"}]}},
          "encoding": {
            "x": {"field": "x0", "type": "quantitative", "axis": null},
            "x2": {"field": "x1"},
            "y": {"field": "rup", "type": "quantitative", "axis": null},
            "y2": {"field": "rdn"}
          }
        },
        {
          "data": {"values": [{"v": 0.5}, {"v": 1.5}]},
          "mark": {"type": "rule", "color": "#999999", "strokeWidth": 1.5, "strokeDash": [10, 6]},
          "encoding": {"y": {"field": "v", "type": "quantitative", "axis": null}}
        },
        {
          "data": {"values": [{"v": 1}]},
          "mark": {"type": "rule", "color": "#FF0000", "strokeWidth": 1.5},
          "encoding": {"y": {"field": "v", "type": "quantitative", "axis": null}}
        },
        {
          "data": {"name": "pts"},
          "mark": {"type": "rule", "color": "black", "strokeWidth": 3, "clip": true},
          "encoding": {
            "x": {"field": "x", "type": "quantitative",
                  "axis": {"orient": "bottom", "values": [0,1,2,3,4,5,6,7,8,9,10], "labels": false, "tickSize": 9, "offset": -9, "title": null}},
            "y": {"field": "rlo", "type": "quantitative",
                  "axis": {"orient": "left", "values": [0, 1, 2], "labels": false, "tickSize": 22, "offset": -22, "title": null}},
            "y2": {"field": "rhi"}
          }
        },
        {
          "data": {"name": "pts"},
          "mark": {"type": "point", "shape": "circle", "size": 180, "filled": true, "color": "black", "opacity": 1},
          "encoding": {
            "x": {"field": "x", "type": "quantitative",
                  "axis": {"orient": "bottom", "values": [0,0.2,0.4,0.6,0.8,1,1.2,1.4,1.6,1.8,2,2.2,2.4,2.6,2.8,3,3.2,3.4,3.6,3.8,4,4.2,4.4,4.6,4.8,5,5.2,5.4,5.6,5.8,6,6.2,6.4,6.6,6.8,7,7.2,7.4,7.6,7.8,8,8.2,8.4,8.6,8.8,9,9.2,9.4,9.6,9.8,10], "labels": false, "tickSize": 4.5, "offset": -4.5, "title": null}},
            "y": {"field": "r", "type": "quantitative",
                  "axis": {"orient": "left", "values": [0.5, 1.5], "labels": false, "tickSize": 11, "offset": -11, "title": null}}
          }
        },
        {
          "data": {"values": [{"x": 7.816, "y": -0.944, "t": "m"}]},
          "mark": {"type": "text", "font": "DejaVu Sans", "fontSize": 36, "fontStyle": "italic", "align": "left", "baseline": "alphabetic", "color": "black"},
          "encoding": {
            "x": {"field": "x", "type": "quantitative",
                  "axis": {"orient": "top", "values": [0,1,2,3,4,5,6,7,8,9,10], "labels": false, "tickSize": 9, "offset": -9, "title": null}},
            "y": {"field": "y", "type": "quantitative",
                  "axis": {"orient": "right", "values": [0, 1, 2], "labels": false, "tickSize": 22, "offset": -22, "title": null}},
            "text": {"field": "t"}
          }
        },
        {
          "data": {"values": [{"x": 8.16, "y": -1.14, "t": "ℓtrack"}]},
          "mark": {"type": "text", "font": "DejaVu Sans", "fontSize": 22, "align": "left", "baseline": "alphabetic", "color": "black"},
          "encoding": {
            "x": {"field": "x", "type": "quantitative",
                  "axis": {"orient": "top", "values": [0,0.2,0.4,0.6,0.8,1,1.2,1.4,1.6,1.8,2,2.2,2.4,2.6,2.8,3,3.2,3.4,3.6,3.8,4,4.2,4.4,4.6,4.8,5,5.2,5.4,5.6,5.8,6,6.2,6.4,6.6,6.8,7,7.2,7.4,7.6,7.8,8,8.2,8.4,8.6,8.8,9,9.2,9.4,9.6,9.8,10], "labels": false, "tickSize": 4.5, "offset": -4.5, "title": null}},
            "y": {"field": "y", "type": "quantitative",
                  "axis": {"orient": "right", "values": [0.5, 1.5], "labels": false, "tickSize": 11, "offset": -11, "title": null}},
            "text": {"field": "t"}
          }
        },
        {
          "data": {"values": [{"x": 10, "y": -0.944, "t": "[GeV]"}]},
          "mark": {"type": "text", "font": "DejaVu Sans", "fontSize": 36, "align": "right", "baseline": "alphabetic", "color": "black"},
          "encoding": {
            "x": {"field": "x", "type": "quantitative", "axis": null},
            "y": {"field": "y", "type": "quantitative", "axis": null},
            "text": {"field": "t"}
          }
        }
      ]
    }
  ],
  "config": {
    "view": {"stroke": "black", "strokeWidth": 2.5},
    "axis": {
      "domain": false, "grid": false, "zindex": 1,
      "tickColor": "black", "tickWidth": 2,
      "labelColor": "black", "labelFont": "DejaVu Sans", "labelFontSize": 29,
      "labelFlush": false, "labelOverlap": false,
      "titleFont": "DejaVu Sans", "titleFontSize": 36, "titleColor": "black", "titleFontWeight": "normal"
    }
  }
}
